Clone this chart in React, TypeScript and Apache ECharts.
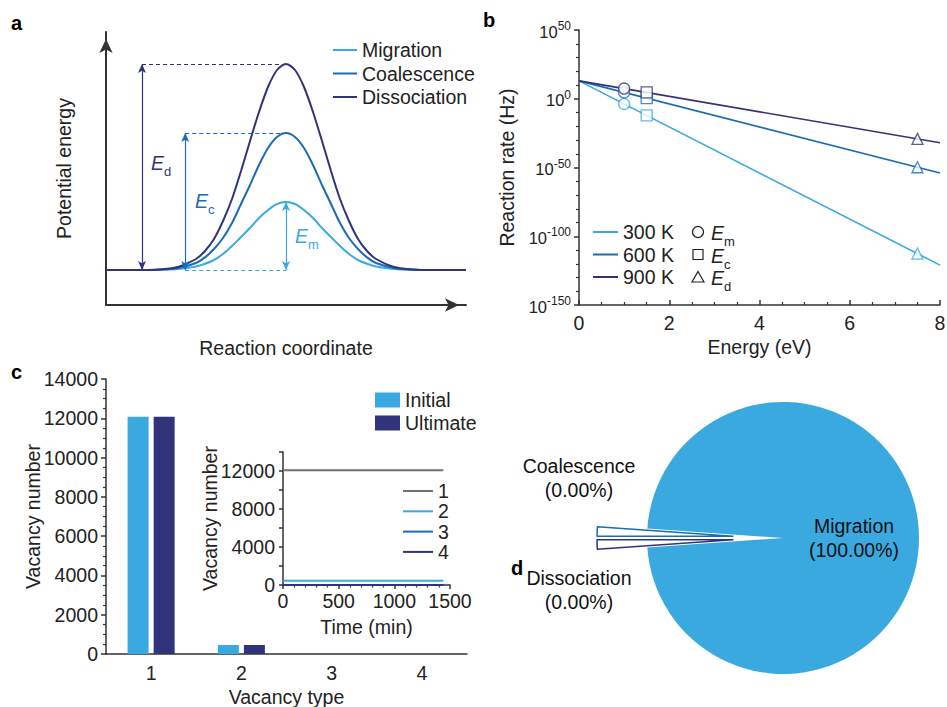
import React, { useEffect, useRef } from 'react';
import * as echarts from 'echarts';

const FONT = '"Liberation Sans", Arial, Helvetica, sans-serif';
const TXT = '#222';
const AX = '#333';
const C_LIGHT = '#3aa9e0';
const C_MID = '#1a6cb3';
const C_DARK = '#31347b';
const C_GRAY = '#707070';
const FS = 19.5;

// ---------- Panel a: schematic energy profiles ----------
const coordX = [0, 1, 1.5, 2, 2.5, 2.75, 3, 3.25, 3.5, 3.75, 4, 4.25, 4.5, 4.75, 5, 5.25, 5.5, 5.75, 6, 6.25, 6.5, 6.75, 7, 7.25, 7.5, 8, 8.5, 9, 10];
const migrationEnergy = [0, 0, 0.2, 1, 3.6, 6.3, 10, 16, 24, 33, 42, 52, 60, 66, 68, 66, 60, 52, 42, 33, 24, 16, 10, 6.3, 3.6, 1, 0.2, 0, 0];
const coalescenceEnergy = [0, 0, 0.4, 2, 7, 12.6, 21, 32, 47, 66, 85, 105, 122, 133, 137, 133, 122, 105, 85, 66, 47, 32, 21, 12.6, 7, 2, 0.4, 0, 0];
const dissociationEnergy = [0, 0, 0.6, 3, 11, 19, 31, 49, 71, 99, 129, 158, 183, 200, 206, 200, 183, 158, 129, 99, 71, 49, 31, 19, 11, 3, 0.6, 0, 0];
const pathwayNames = ['Migration', 'Coalescence', 'Dissociation'];
const barrierHeights = [68, 137, 206]; // Em, Ec, Ed
const barrierPeakX = 5;
const barrierArrowX = [5, 2.2, 1];
const barrierDashStart = [2.2, 2.2, 1];

// ---------- Panel b: reaction rates ----------
const temperatures = ['300 K', '600 K', '900 K'];
const lineEnergy = [0, 8];
const log10Rate300 = [13, -121];
const log10Rate600 = [13, -54];
const log10Rate900 = [13, -32];
const barrierEnergy = [1.0, 1.5, 7.5]; // Em, Ec, Ed
const barrierLog10Rate300 = [-3.8, -12.1, -112.6];
const barrierLog10Rate600 = [4.6, 0.4, -49.8];
const barrierLog10Rate900 = [7.4, 4.6, -29.2];
const barrierSymbols = ['circle', 'rect', 'triangle'];

// ---------- Panel c: vacancy numbers ----------
const vacancyTypes = ['1', '2', '3', '4'];
const initialCount = [12080, 460, 0, 0];
const ultimateCount = [12080, 460, 0, 0];
const timeMin = [0, 1440];
const type1Count = [12080, 12080];
const type2Count = [460, 460];
const type3Count = [0, 0];
const type4Count = [0, 0];

// ---------- Panel d: event shares ----------
const outcomeNames = ['Migration', 'Dissociation', 'Coalescence'];
const outcomeShare = [100, 0, 0];

const textBase = { fontFamily: FONT, fontSize: FS, color: TXT };
const axLine = { onZero: false, lineStyle: { color: AX, width: 1.5 } };
const plain = (v: number) => String(v);

function eLabel(x: number, y: number, sub: string, color: string) {
  return {
    type: 'text',
    x,
    y,
    silent: true,
    style: {
      text: `{e|E}{s|${sub}}`,
      align: 'left',
      verticalAlign: 'top',
      fill: color,
      rich: {
        e: { fontFamily: FONT, fontStyle: 'italic', fontSize: 19.5, lineHeight: 22, verticalAlign: 'top', fill: color },
        s: { fontFamily: FONT, fontSize: 13, lineHeight: 25, verticalAlign: 'bottom', fill: color },
      },
    },
  };
}

function panelLetter(t: string, x: number, y: number) {
  return {
    type: 'text',
    x,
    y,
    silent: true,
    style: { text: t, fontFamily: FONT, fontWeight: 'bold', fontSize: 20, fill: '#000', verticalAlign: 'middle' },
  };
}

function pieSideLabel(name: string, share: number, x: number, y: number) {
  return {
    type: 'text',
    x,
    y,
    silent: true,
    style: {
      text: `${name}\n(${share.toFixed(2)}%)`,
      fontFamily: FONT, fontSize: FS, fill: '#111', lineHeight: 24,
      align: 'center', verticalAlign: 'middle',
    },
  };
}

function energySeries(name: string, values: number[], color: string, idx: number) {
  const h = barrierHeights[idx];
  const dashY = idx === 0 ? 0 : h;
  return {
    type: 'line',
    name,
    xAxisIndex: 0,
    yAxisIndex: 0,
    data: coordX.map((x, i) => [x, values[i]]),
    symbol: 'none',
    showSymbol: false,
    smooth: 0.3,
    lineStyle: { color, width: 2 },
    itemStyle: { color },
    z: 3,
    markLine: {
      silent: true,
      symbol: ['arrow', 'arrow'],
      symbolSize: [6, 9],
      label: { show: false },
      emphasis: { disabled: true },
      lineStyle: { color, width: 1.2, type: 'solid' },
      data: [
        [
          { coord: [barrierDashStart[idx], dashY], symbol: 'none', lineStyle: { type: [4, 3], color, width: 1.2 } },
          { coord: [barrierPeakX, dashY], symbol: 'none' },
        ],
        [
          { coord: [barrierArrowX[idx], 0] },
          { coord: [barrierArrowX[idx], h] },
        ],
      ],
    },
  };
}

const rateSets = [log10Rate300, log10Rate600, log10Rate900];
const barrierSets = [barrierLog10Rate300, barrierLog10Rate600, barrierLog10Rate900];
const tempColors = [C_LIGHT, C_MID, C_DARK];
const insetColors = [C_GRAY, C_LIGHT, C_MID, C_DARK];

const option: any = {
  animation: false,
  backgroundColor: '#fff',
  textStyle: { fontFamily: FONT },
  grid: [
    { left: 106, top: 32, width: 360, height: 273, outerBoundsMode: 'none' },
    { left: 579, top: 30, width: 361, height: 275, outerBoundsMode: 'none' },
    { left: 106, top: 379, width: 361, height: 275, outerBoundsMode: 'none' },
    { left: 283, top: 452, width: 167, height: 133, outerBoundsMode: 'none' },
  ],
  xAxis: [
    {
      gridIndex: 0, type: 'value', min: 0, max: 10,
      axisLine: { onZero: false, lineStyle: { color: AX, width: 2 }, symbol: ['none', 'arrow'], symbolSize: [10, 14], symbolOffset: [0, -7] },
      axisTick: { show: false }, axisLabel: { show: false }, splitLine: { show: false },
      name: 'Reaction coordinate', nameLocation: 'middle', nameGap: 33, nameMoveOverlap: false, nameTextStyle: textBase,
    },
    {
      gridIndex: 1, type: 'value', min: 0, max: 8, interval: 2,
      axisLine: axLine,
      axisTick: { inside: true, length: 5, lineStyle: { color: AX, width: 1.5 } },
      minorTick: { show: true, splitNumber: 4, length: 3, lineStyle: { color: AX, width: 1.2 } },
      axisLabel: { ...textBase, margin: 8, formatter: plain }, splitLine: { show: false },
      name: 'Energy (eV)', nameLocation: 'middle', nameGap: 32, nameMoveOverlap: false, nameTextStyle: textBase,
    },
    {
      gridIndex: 2, type: 'category', data: vacancyTypes,
      axisLine: axLine,
      axisTick: { alignWithLabel: true, length: 5, lineStyle: { color: AX, width: 1.5 } },
      axisLabel: { ...textBase, margin: 9 }, splitLine: { show: false },
      name: 'Vacancy type', nameLocation: 'middle', nameGap: 33, nameMoveOverlap: false, nameTextStyle: textBase,
    },
    {
      gridIndex: 3, type: 'value', min: 0, max: 1500, interval: 500,
      axisLine: axLine,
      axisTick: { length: 4, lineStyle: { color: AX, width: 1.5 } },
      minorTick: { show: true, splitNumber: 5, length: 2.5, lineStyle: { color: AX, width: 1.2 } },
      axisLabel: { ...textBase, margin: 6, formatter: plain }, splitLine: { show: false },
      name: 'Time (min)', nameLocation: 'middle', nameGap: 32, nameMoveOverlap: false, nameTextStyle: textBase,
    },
  ],
  yAxis: [
    {
      gridIndex: 0, type: 'value', min: -35, max: 238,
      axisLine: { show: true, onZero: false, lineStyle: { color: AX, width: 2 }, symbol: ['none', 'arrow'], symbolSize: [10, 14], symbolOffset: [0, -7] },
      axisTick: { show: false }, axisLabel: { show: false }, splitLine: { show: false },
      name: 'Potential energy', nameLocation: 'middle', nameGap: 32, nameMoveOverlap: false, nameTextStyle: textBase,
    },
    {
      gridIndex: 1, type: 'value', min: -150, max: 50, interval: 50,
      axisLine: { show: true, ...axLine },
      axisTick: { show: true, length: 5, lineStyle: { color: AX, width: 1.5 } },
      minorTick: { show: true, splitNumber: 5, length: 3, lineStyle: { color: AX, width: 1.2 } },
      axisLabel: {
        margin: 8,
        formatter: (v: number) => `{b|10}{s|${v}}`,
        rich: {
          b: { fontFamily: FONT, fontSize: 16.5, color: TXT, lineHeight: 20, verticalAlign: 'bottom' },
          s: { fontFamily: FONT, fontSize: 12, color: TXT, lineHeight: 14, verticalAlign: 'top' },
        },
      },
      splitLine: { show: false },
      name: 'Reaction rate (Hz)', nameLocation: 'middle', nameGap: 62, nameMoveOverlap: false, nameTextStyle: textBase,
    },
    {
      gridIndex: 2, type: 'value', min: 0, max: 14000, interval: 2000,
      axisLine: { show: true, ...axLine },
      axisTick: { show: true, length: 5, lineStyle: { color: AX, width: 1.5 } },
      minorTick: { show: true, splitNumber: 4, length: 3, lineStyle: { color: AX, width: 1.2 } },
      axisLabel: { ...textBase, margin: 8, formatter: plain }, splitLine: { show: false },
      name: 'Vacancy number', nameLocation: 'middle', nameGap: 63, nameMoveOverlap: false, nameTextStyle: textBase,
    },
    {
      gridIndex: 3, type: 'value', min: 0, max: 14000, interval: 2000,
      axisLine: { show: true, ...axLine },
      axisTick: { show: true, length: 4, lineStyle: { color: AX, width: 1.5 } },
      axisLabel: { ...textBase, margin: 8, formatter: (v: number) => (v % 4000 === 0 ? String(v) : '') },
      splitLine: { show: false },
      name: 'Vacancy number', nameLocation: 'middle', nameGap: 63, nameMoveOverlap: false, nameTextStyle: textBase,
    },
  ],
  legend: [
    {
      left: 333, top: 40, orient: 'vertical', itemWidth: 24, itemHeight: 2, itemGap: 3.5, icon: 'rect',
      data: pathwayNames, selectedMode: false, textStyle: textBase, padding: 0,
    },
    {
      left: 593, top: 222, orient: 'vertical', itemWidth: 25, itemHeight: 2, itemGap: 2.5, icon: 'rect',
      data: temperatures, selectedMode: false, textStyle: textBase, padding: 0,
    },
    {
      left: 375, top: 390, orient: 'vertical', itemWidth: 25, itemHeight: 15, itemGap: 3, icon: 'rect',
      data: ['Initial', 'Ultimate'], selectedMode: false, textStyle: textBase, padding: 0,
    },
    {
      left: 403, top: 481, orient: 'vertical', itemWidth: 30, itemHeight: 2, itemGap: 0.3, icon: 'rect',
      data: vacancyTypes, selectedMode: false, textStyle: textBase, padding: 0,
    },
  ],
  series: [
    energySeries(pathwayNames[0], migrationEnergy, C_LIGHT, 0),
    energySeries(pathwayNames[1], coalescenceEnergy, C_MID, 1),
    energySeries(pathwayNames[2], dissociationEnergy, C_DARK, 2),
    ...temperatures.map((t, k) => ({
      type: 'line', name: t, xAxisIndex: 1, yAxisIndex: 1,
      data: lineEnergy.map((e, i) => [e, rateSets[k][i]]),
      symbol: 'none', showSymbol: false,
      lineStyle: { color: tempColors[k], width: 1.6 }, itemStyle: { color: tempColors[k] },
    })),
    ...temperatures.map((t, k) => ({
      type: 'scatter', name: t + ' barriers', xAxisIndex: 1, yAxisIndex: 1,
      data: barrierEnergy.map((e, i) => ({ value: [e, barrierSets[k][i]], symbol: barrierSymbols[i] })),
      symbolSize: 11,
      itemStyle: { color: '#fff', borderColor: tempColors[k], borderWidth: 1.3 },
      z: 4, silent: true,
    })),
    {
      type: 'bar', name: 'Initial', xAxisIndex: 2, yAxisIndex: 2, data: initialCount,
      barWidth: 21, barGap: '24%', itemStyle: { color: C_LIGHT },
    },
    {
      type: 'bar', name: 'Ultimate', xAxisIndex: 2, yAxisIndex: 2, data: ultimateCount,
      barWidth: 21, barGap: '24%', itemStyle: { color: C_DARK },
    },
    ...[type1Count, type2Count, type3Count, type4Count].map((vals, k) => ({
      type: 'line', name: vacancyTypes[k], xAxisIndex: 3, yAxisIndex: 3,
      data: timeMin.map((t, i) => [t, vals[i]]),
      symbol: 'none', showSymbol: false,
      lineStyle: { color: insetColors[k], width: 2 },
      itemStyle: { color: insetColors[k] },
    })),
    {
      type: 'pie',
      center: [783, 538],
      radius: 136,
      startAngle: 176,
      clockwise: true,
      minAngle: 4,
      avoidLabelOverlap: false,
      selectedMode: 'multiple',
      selectedOffset: 50,
      emphasis: { disabled: true },
      label: {
        show: true, position: 'inside',
        formatter: (p: any) => `${p.name}\n(${Number(p.percent).toFixed(2)}%)`,
        fontFamily: FONT, fontSize: FS, color: '#111', lineHeight: 24,
      },
      labelLine: { show: false },
      data: outcomeNames.map((n, i) => ({
        name: n,
        value: outcomeShare[i],
        selected: i > 0,
        label: { show: i === 0 },
        itemStyle: i === 0
          ? { color: C_LIGHT, borderWidth: 0 }
          : { color: '#fff', borderColor: i === 1 ? C_DARK : C_MID, borderWidth: 1.5 },
        select: i === 0 ? undefined : { itemStyle: { color: '#fff', borderColor: i === 1 ? C_DARK : C_MID, borderWidth: 1.5 } },
      })),
    },
  ],
  graphic: [
    panelLetter('a', 11, 23),
    panelLetter('b', 483, 20),
    panelLetter('c', 11, 372),
    panelLetter('d', 511, 568),
    eLabel(151, 153, 'd', C_DARK),
    eLabel(195, 191, 'c', C_MID),
    eLabel(295, 226, 'm', C_LIGHT),
    { type: 'circle', silent: true, shape: { cx: 698, cy: 232, r: 5.5 }, style: { fill: 'none', stroke: '#222', lineWidth: 1.2 } },
    { type: 'rect', silent: true, shape: { x: 693, y: 249.5, width: 10, height: 10 }, style: { fill: 'none', stroke: '#222', lineWidth: 1.2 } },
    { type: 'polygon', silent: true, shape: { points: [[698, 271.5], [704, 282], [692, 282]] }, style: { fill: 'none', stroke: '#222', lineWidth: 1.2 } },
    eLabel(711, 223, 'm', '#222'),
    eLabel(711, 245.5, 'c', '#222'),
    eLabel(711, 268, 'd', '#222'),
    pieSideLabel(outcomeNames[2], outcomeShare[2], 579, 478),
    pieSideLabel(outcomeNames[1], outcomeShare[1], 579, 590),
  ],
};

const App = () => {
  const ref = useRef<HTMLDivElement>(null);
  useEffect(() => {
    const chart = echarts.init(ref.current as HTMLDivElement, null, { renderer: 'svg' });
    chart.setOption(option);
    return () => chart.dispose();
  }, []);
  return <div ref={ref} style={{ position: 'fixed', left: 0, top: 0, width: 947, height: 707, background: '#fff' }} />;
};

export default App;
